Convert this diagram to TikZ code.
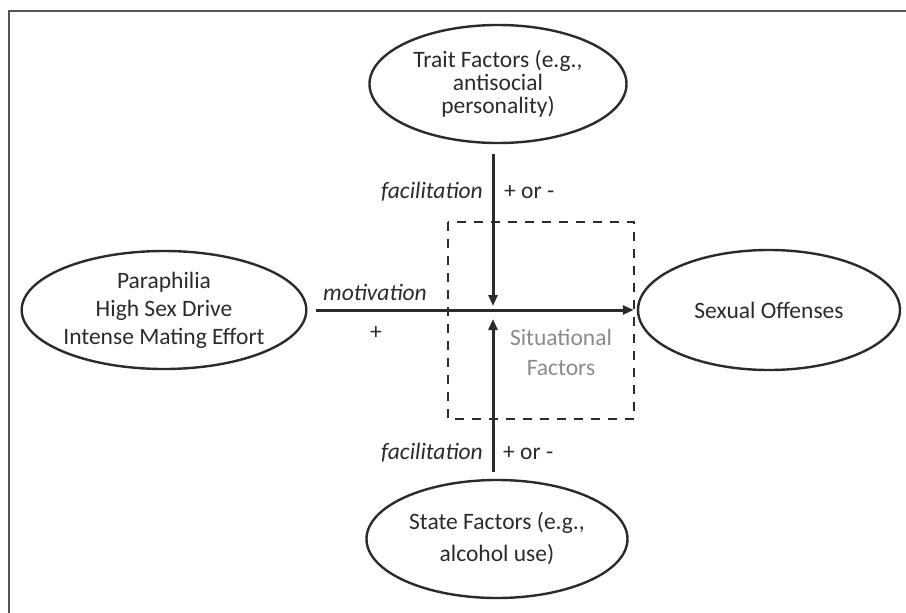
\documentclass[tikz,border=0pt]{standalone}
\usepackage{fontspec}
\setmainfont{Carlito}
\usetikzlibrary{shapes.geometric,arrows.meta}
\definecolor{ink}{HTML}{2B2B2B}
\definecolor{situ}{HTML}{8A8A8A}
\tikzset{
  oval/.style={ellipse, draw=ink, line width=2.4pt, inner sep=0pt, align=center,
    text=ink, font=\fontsize{23.5}{23}\selectfont},
  arr/.style={draw=ink, line width=3pt, -{Triangle[length=11pt,width=9pt]}},
  lbl/.style={text=ink, font=\fontsize{23.5}{23}\selectfont, inner sep=0pt},
  ilbl/.style={lbl, font=\fontsize{23.5}{23}\selectfont\itshape},
  dashbox/.style={draw=ink, line width=2.4pt, dash pattern=on 9pt off 8pt},
  frame/.style={draw=ink!80, line width=2pt}
}
\begin{document}
\begin{tikzpicture}[x=1pt,y=-1pt]
\useasboundingbox (0,0) rectangle (906,613);
\draw[frame] (9,613) -- (9,11) -- (906,11);
% dashed situational box
\draw[dashbox] (448,222) rectangle (634,419);
\node[text=situ, font=\fontsize{23.5}{30}\selectfont, align=center] (sit) at (561,352) {Situational\\Factors};
% ellipses
\node[oval, minimum width=257pt, minimum height=118pt] (trait) at (498,84) {Trait Factors (e.g.,\\antisocial\\personality)};
\node[oval, minimum width=261pt, minimum height=118pt, font=\fontsize{23.5}{32}\selectfont] (state) at (497,539) {State Factors (e.g.,\\alcohol use)};
\node[oval, minimum width=260pt, minimum height=118pt, font=\fontsize{23.5}{28}\selectfont] (para) at (164,310) {Paraphilia\\High Sex Drive\\Intense Mating Effort};
\node[oval, minimum width=262pt, minimum height=120pt] (sex) at (769,310) {Sexual Offenses};
% centre of the main arrow
\coordinate (mid) at (493,310);
\coordinate (ttop) at (493,154);
\coordinate (bbot) at (493,472);
% arrows
\draw[arr, shorten <=8pt, shorten >=3pt] (para) -- (sex);
\draw[arr, shorten >=4pt] (ttop) -- (mid);
\draw[arr, shorten >=9pt] (bbot) -- (mid);
% labels
\node[ilbl] (mot) at (375,292) {motivation};
\node[lbl] (plus) at (376,333) {+};
\node[ilbl, anchor=east] (fac1) at (483,192) {facilitation};
\node[lbl, anchor=west] (pm1) at (504,192) {+ or -};
\node[ilbl, anchor=east] (fac2) at (483,453) {facilitation};
\node[lbl, anchor=west] (pm2) at (503,453) {+ or -};
\end{tikzpicture}
\end{document}
